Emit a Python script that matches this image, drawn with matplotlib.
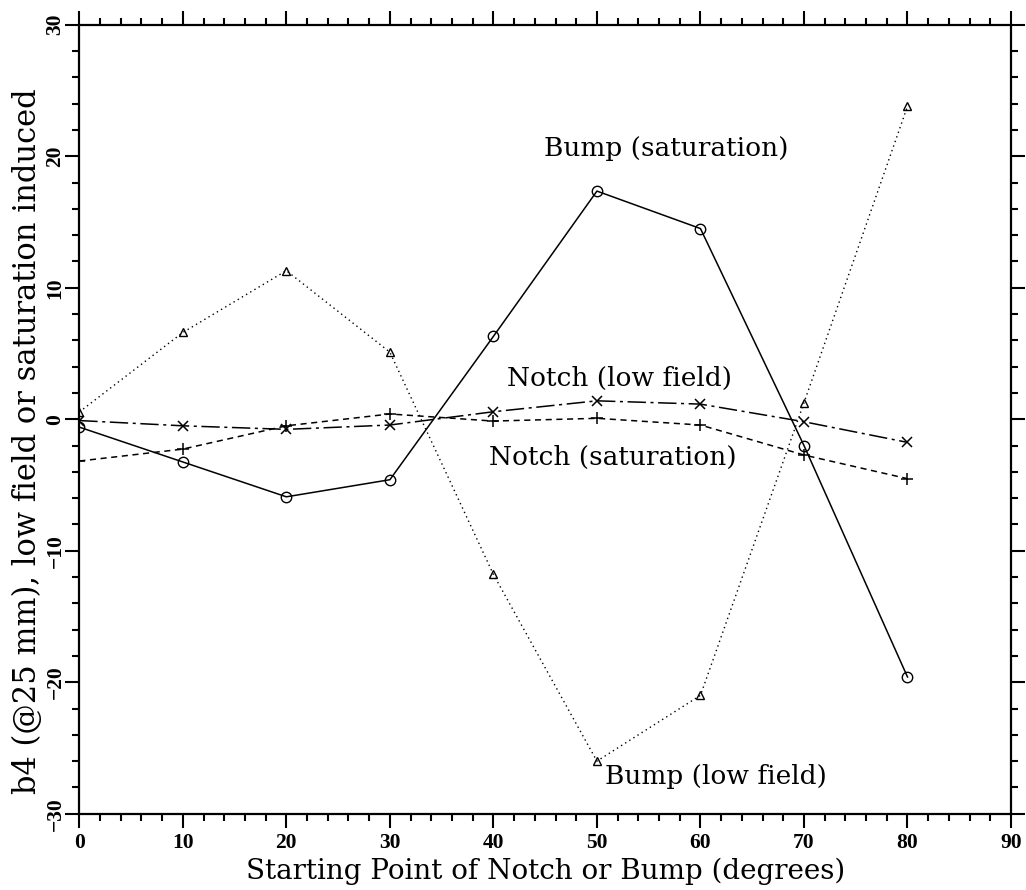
import matplotlib
matplotlib.use("Agg")
import matplotlib.pyplot as plt
from matplotlib.ticker import MultipleLocator

x = [0, 10, 20, 30, 40, 50, 60, 70, 80]
bump_sat = [-0.6, -3.25, -5.9, -4.6, 6.3, 17.35, 14.5, -2.0, -19.6]
bump_low = [0.55, 6.6, 11.3, 5.1, -11.8, -26.0, -21.0, 1.25, 23.8]
notch_low = [-0.1, -0.5, -0.77, -0.44, 0.57, 1.4, 1.15, -0.19, -1.76]
notch_sat = [-3.18, -2.27, -0.5, 0.4, -0.14, 0.07, -0.44, -2.72, -4.52]

labels = ["Bump (saturation)", "Notch (low field)", "Notch (saturation)", "Bump (low field)"]
label_pos = [(56.7, 20.6), (52.2, 3.1), (51.5, -2.9), (61.5, -27.2)]

plt.rcParams['font.family'] = ['DejaVu Serif']

fig = plt.figure(figsize=(10.26, 8.9), dpi=100)
ax = fig.add_axes([0.0773, 0.0857, 0.9081, 0.8865])

ax.plot(x, bump_sat, color='black', lw=1.1, ls='-', marker='o', ms=7.5, mfc='none', mec='black', mew=1.0)
ax.plot(x, bump_low, color='black', lw=1.0, ls=(0, (1, 2.5)), marker='^', ms=6, mfc='none', mec='black', mew=1.0)
ax.plot(x, notch_low, color='black', lw=1.1, ls=(0, (12, 3, 2, 3)), marker='x', ms=7, mec='black', mew=1.1)
ax.plot(x, notch_sat, color='black', lw=1.1, ls=(0, (4, 3)), marker='+', ms=8, mec='black', mew=1.1)

for t, (px, py) in zip(labels, label_pos):
    ax.text(px, py, t, ha='center', va='center', fontsize=19)

ax.set_xlim(0, 90)
ax.set_ylim(-30, 30)
ax.xaxis.set_major_locator(MultipleLocator(10))
ax.xaxis.set_minor_locator(MultipleLocator(2))
ax.yaxis.set_major_locator(MultipleLocator(10))
ax.yaxis.set_minor_locator(MultipleLocator(2))
ax.tick_params(which='both', direction='out', top=True, right=True, width=1.5)
ax.tick_params(which='major', length=10, pad=4)
ax.tick_params(which='minor', length=5)
ax.tick_params(axis='y', which='major', pad=0)
for lab in ax.get_xticklabels() + ax.get_yticklabels():
    lab.set_fontfamily('Liberation Serif')
    lab.set_fontsize(15.5)
    lab.set_fontweight('bold')
for lab in ax.get_yticklabels():
    lab.set_rotation(90)
    lab.set_va('center')
for s in ax.spines.values():
    s.set_linewidth(1.6)

ax.set_xlabel("Starting Point of Notch or Bump (degrees)", fontsize=20, labelpad=3)
ax.set_ylabel("b4 (@25 mm), low field or saturation induced", fontsize=22)
ax.yaxis.set_label_coords(-0.039, 0.472)

fig.savefig("out.png", dpi=100)
